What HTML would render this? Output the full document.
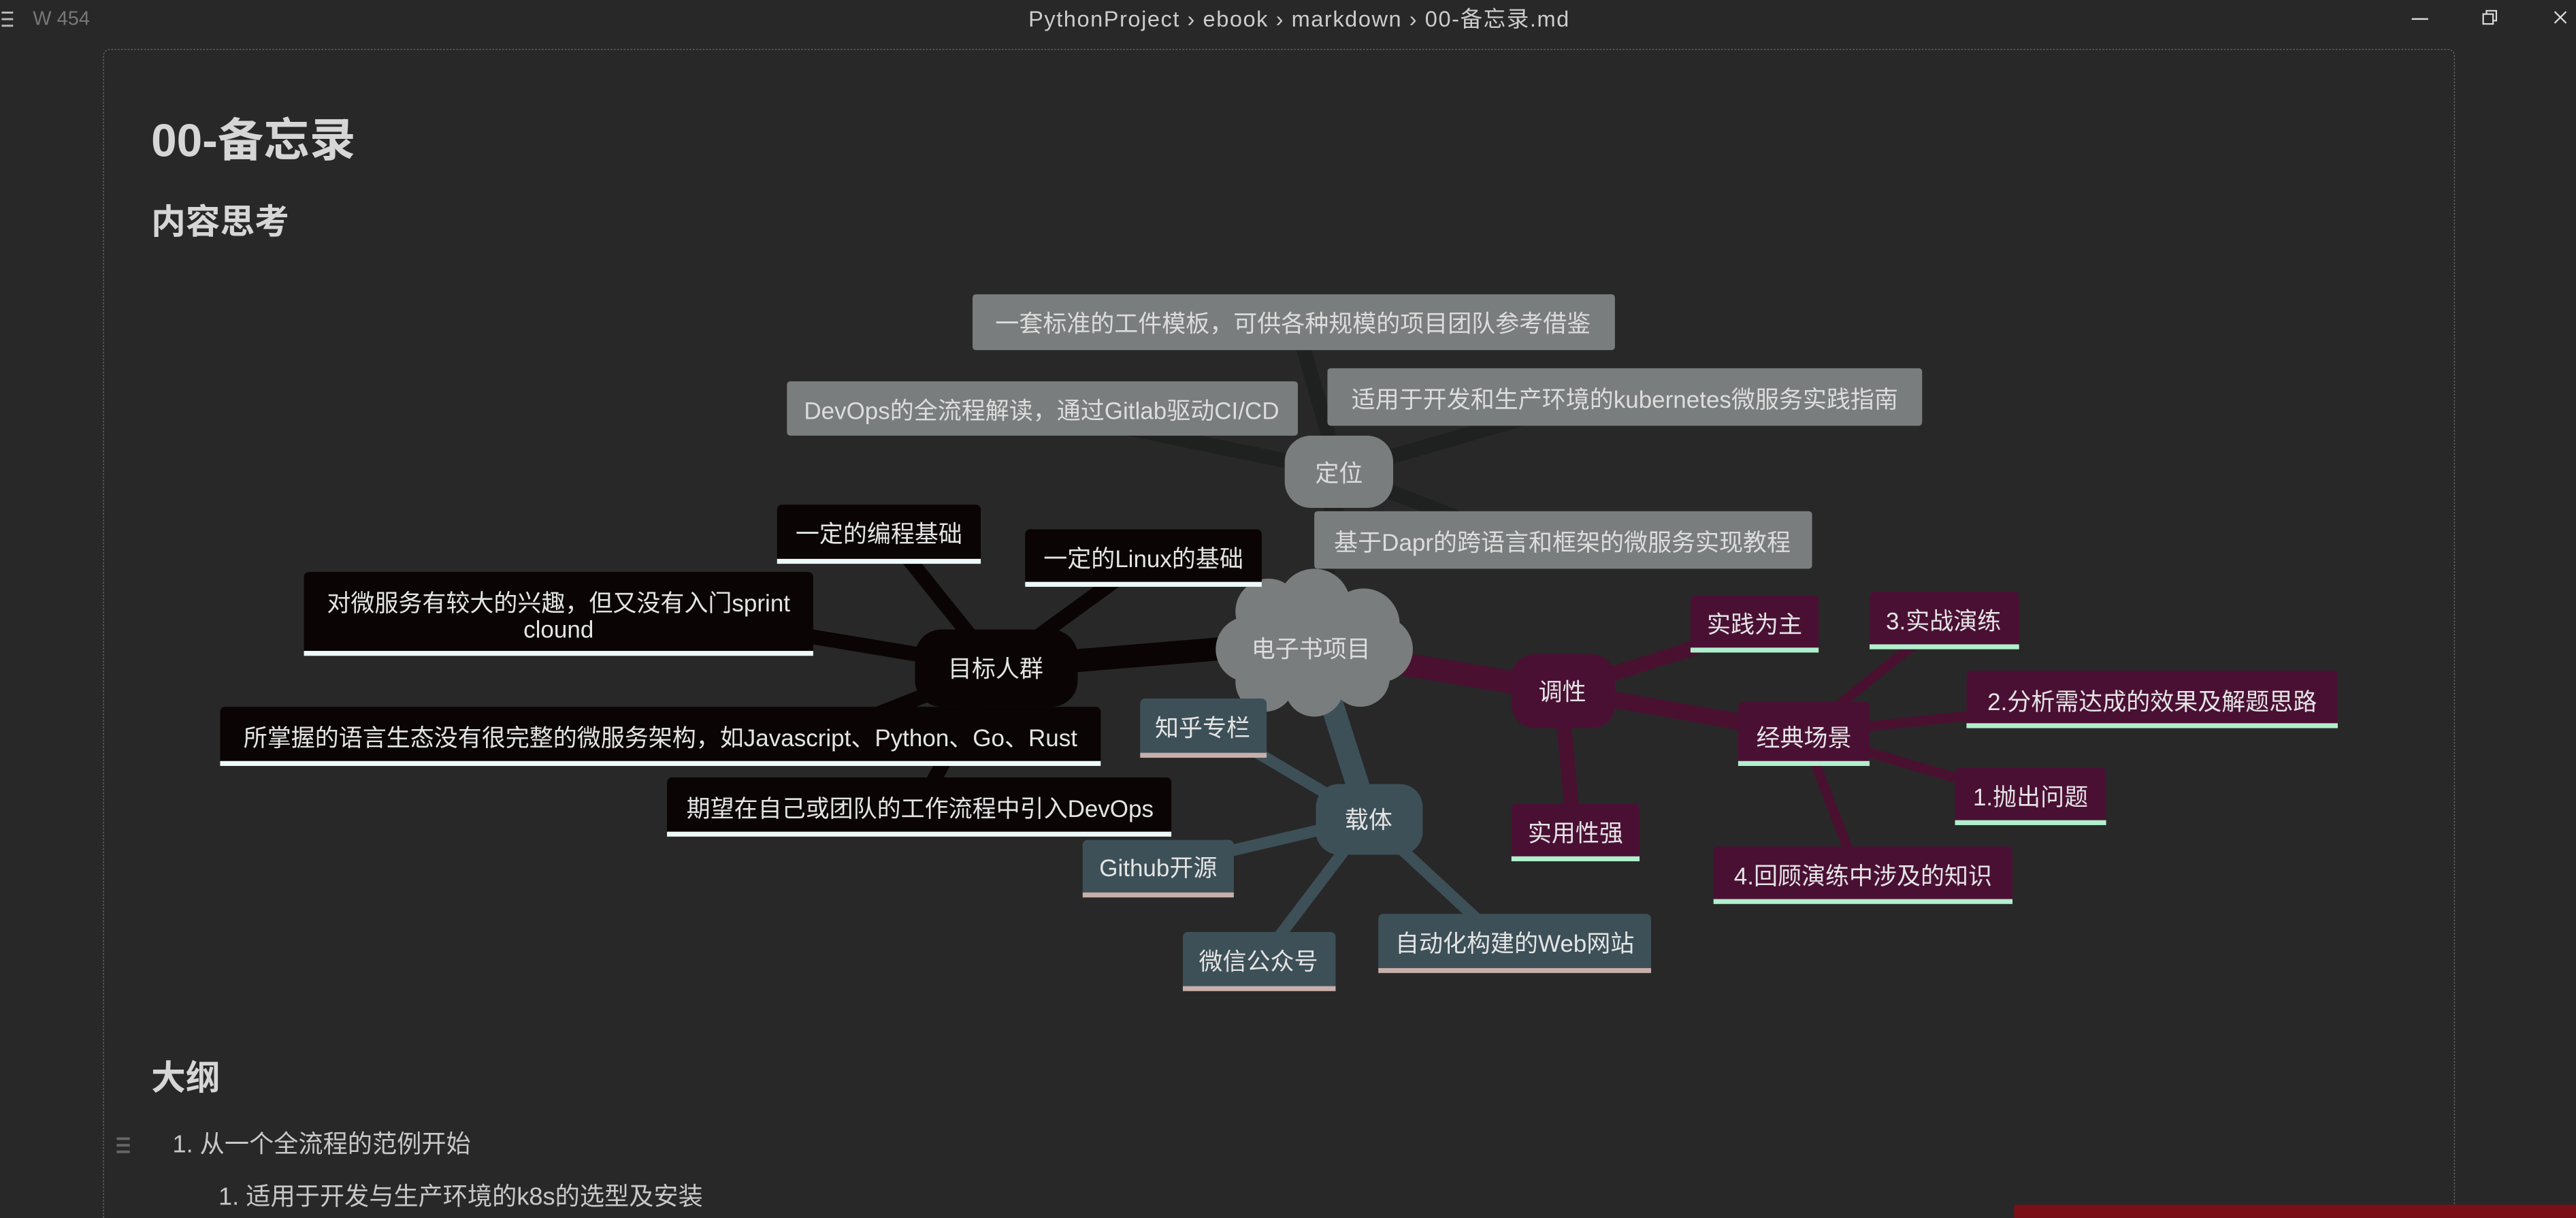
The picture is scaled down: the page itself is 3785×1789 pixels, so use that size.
<!DOCTYPE html>
<html><head><meta charset="utf-8"><style>
html,body{margin:0;padding:0;background:#282828;width:3785px;height:1789px;overflow:hidden}
svg{display:block}
text{font-family:"Liberation Sans","Noto Sans CJK SC",sans-serif}
</style></head><body>
<svg width="3785" height="1789" viewBox="0 0 1568 741" xmlns="http://www.w3.org/2000/svg">
<rect width="1568" height="741" fill="#282828"/>
<!-- title bar -->
<g fill="#bbb"><rect x="1" y="7" width="7" height="1.2"/><rect x="1" y="11" width="7" height="1.2"/><rect x="1" y="15" width="7" height="1.2"/></g>
<text x="20" y="15" font-size="12" fill="#777">W 454</text>
<text x="626" y="16" font-size="13.5" fill="#ccc" textLength="329" lengthAdjust="spacing">PythonProject  ›  ebook  ›  markdown  ›  00-备忘录.md</text>
<rect x="1468" y="11" width="10" height="1" fill="#ddd"/>
<g fill="none" stroke="#ddd" stroke-width="0.9"><rect x="1511.5" y="8.5" width="6" height="6"/><path d="M1513.5 8.5v-2h6v6h-2"/><path d="M1555 7l7 7M1562 7l-7 7"/></g>
<!-- frame -->
<path d="M63 741V34a4 4 0 0 1 4-4H1490a4 4 0 0 1 4 4V741" fill="none" stroke="#666" stroke-width="0.6" stroke-dasharray="1 1"/>
<text x="92" y="95" font-size="28" font-weight="bold" fill="#d6d6d6">00-备忘录</text>
<text x="92" y="142" font-size="21" font-weight="bold" fill="#d6d6d6">内容思考</text>
<text x="92" y="663" font-size="21" font-weight="bold" fill="#d6d6d6">大纲</text>
<g fill="#666"><rect x="71" y="692" width="8" height="1.6"/><rect x="71" y="696" width="8" height="1.6"/><rect x="71" y="700" width="8" height="1.6"/></g>
<text x="105" y="701" font-size="15" fill="#c8c8c8">1. 从一个全流程的范例开始</text>
<text x="133" y="733" font-size="15" fill="#c8c8c8">1. 适用于开发与生产环境的k8s的选型及安装</text>
<rect x="1226" y="733" width="342" height="8" fill="#7a0f18"/>

<!-- connectors: 定位 -->
<g stroke="#1f2121" stroke-linecap="round" fill="none">
<path d="M815 287L790 200" stroke-width="9"/>
<path d="M815 287L660 255" stroke-width="9"/>
<path d="M815 287L960 245" stroke-width="9"/>
<path d="M815 287L900 320" stroke-width="9"/>
<path d="M815 287L800 395" stroke-width="12"/>
</g>
<!-- 目标人群 -->
<g stroke="#0a0404" stroke-linecap="round" fill="none">
<path d="M606 406L800 390" stroke-width="14"/>
<path d="M606 406L545 330" stroke-width="9"/>
<path d="M606 406L690 345" stroke-width="9"/>
<path d="M606 406L420 375" stroke-width="9"/>
<path d="M606 406L500 448" stroke-width="9"/>
<path d="M606 406L560 490" stroke-width="9"/>
</g>
<!-- 调性 -->
<g stroke="#4a1030" stroke-linecap="round" fill="none">
<path d="M800 395L950 420" stroke-width="14"/>
<path d="M950 420L1060 385" stroke-width="9"/>
<path d="M950 420L1098 446" stroke-width="10"/>
<path d="M950 420L958 505" stroke-width="9"/>
<path d="M1098 446L1180 380" stroke-width="6"/>
<path d="M1098 446L1300 425" stroke-width="6"/>
<path d="M1098 446L1230 485" stroke-width="6"/>
<path d="M1098 446L1130 530" stroke-width="6"/>
</g>
<!-- 载体 -->
<g stroke="#3d5058" stroke-linecap="round" fill="none">
<path d="M800 395L833 498" stroke-width="14"/>
<path d="M833 498L735 440" stroke-width="7"/>
<path d="M833 498L705 528" stroke-width="7"/>
<path d="M833 498L767 585" stroke-width="7"/>
<path d="M833 498L915 574" stroke-width="7"/>
</g>

<!-- gray nodes -->
<g fill="#7a7d7d">
<rect x="592" y="179" width="391" height="34" rx="2"/>
<rect x="479" y="232" width="311" height="33" rx="2"/>
<rect x="808" y="224" width="362" height="35" rx="2"/>
<rect x="800" y="311" width="303" height="35" rx="2"/>
<rect x="782" y="265" width="66" height="44" rx="16"/>
</g>
<g font-size="14.5" fill="#dcdcdc" text-anchor="middle">
<text x="787" y="202">一套标准的工件模板，可供各种规模的项目团队参考借鉴</text>
<text x="634" y="255">DevOps的全流程解读，通过Gitlab驱动CI/CD</text>
<text x="989" y="248">适用于开发和生产环境的kubernetes微服务实践指南</text>
<text x="951" y="335">基于Dapr的跨语言和框架的微服务实现教程</text>
<text x="815" y="293">定位</text>
</g>

<!-- cloud -->
<g fill="#7a7d7d">
<circle cx="772" cy="372" r="20"/><circle cx="800" cy="368" r="22"/><circle cx="830" cy="380" r="22"/>
<circle cx="760" cy="395" r="20"/><circle cx="840" cy="395" r="20"/>
<circle cx="770" cy="415" r="18"/><circle cx="800" cy="418" r="18"/><circle cx="828" cy="412" r="18"/>
<ellipse cx="800" cy="395" rx="45" ry="28"/>
</g>
<text x="798" y="400" font-size="14.5" fill="#dcdcdc" text-anchor="middle">电子书项目</text>

<!-- black nodes -->
<g fill="#0a0404">
<rect x="557" y="383" width="99" height="47" rx="16"/>
<rect x="473" y="307" width="124" height="36" rx="3"/>
<rect x="624" y="322" width="144" height="35" rx="3"/>
<rect x="185" y="348" width="310" height="51" rx="3"/>
<rect x="134" y="430" width="536" height="36" rx="3"/>
<rect x="406" y="473" width="307" height="36" rx="3"/>
</g>
<g fill="#eefafa">
<rect x="473" y="340" width="124" height="3"/>
<rect x="624" y="354" width="144" height="3"/>
<rect x="185" y="396" width="310" height="3"/>
<rect x="134" y="463" width="536" height="3"/>
<rect x="406" y="506" width="307" height="3"/>
</g>
<g font-size="14.5" fill="#e4e4e4" text-anchor="middle">
<text x="606" y="412">目标人群</text>
<text x="535" y="330">一定的编程基础</text>
<text x="696" y="345">一定的Linux的基础</text>
<text x="340" y="372">对微服务有较大的兴趣，但又没有入门sprint</text>
<text x="340" y="388">clound</text>
<text x="402" y="454">所掌握的语言生态没有很完整的微服务架构，如Javascript、Python、Go、Rust</text>
<text x="560" y="497">期望在自己或团队的工作流程中引入DevOps</text>
</g>

<!-- purple nodes -->
<g fill="#4a1034">
<rect x="920" y="398" width="63" height="45" rx="14"/>
<rect x="1029" y="362" width="78" height="35" rx="3"/>
<rect x="1138" y="360" width="91" height="35" rx="3"/>
<rect x="1058" y="427" width="80" height="39" rx="3"/>
<rect x="1197" y="408" width="226" height="35" rx="3"/>
<rect x="1190" y="467" width="92" height="35" rx="3"/>
<rect x="920" y="489" width="78" height="35" rx="3"/>
<rect x="1043" y="515" width="182" height="35" rx="3"/>
</g>
<g fill="#b0f0cc">
<rect x="1029" y="394" width="78" height="3"/>
<rect x="1138" y="392" width="91" height="3"/>
<rect x="1058" y="463" width="80" height="3"/>
<rect x="1197" y="440" width="226" height="3"/>
<rect x="1190" y="499" width="92" height="3"/>
<rect x="920" y="521" width="78" height="3"/>
<rect x="1043" y="547" width="182" height="3"/>
</g>
<g font-size="14.5" fill="#e4e4e4" text-anchor="middle">
<text x="951" y="426">调性</text>
<text x="1068" y="385">实践为主</text>
<text x="1183" y="383">3.实战演练</text>
<text x="1098" y="454">经典场景</text>
<text x="1310" y="432">2.分析需达成的效果及解题思路</text>
<text x="1236" y="490">1.抛出问题</text>
<text x="959" y="512">实用性强</text>
<text x="1134" y="538">4.回顾演练中涉及的知识</text>
</g>

<!-- teal nodes -->
<g fill="#3d5058">
<rect x="801" y="477" width="65" height="43" rx="14"/>
<rect x="694" y="425" width="77" height="36" rx="3"/>
<rect x="659" y="511" width="92" height="35" rx="3"/>
<rect x="720" y="567" width="93" height="36" rx="3"/>
<rect x="839" y="556" width="166" height="36" rx="3"/>
</g>
<g fill="#c8b0aa">
<rect x="694" y="458" width="77" height="3"/>
<rect x="659" y="543" width="92" height="3"/>
<rect x="720" y="600" width="93" height="3"/>
<rect x="839" y="589" width="166" height="3"/>
</g>
<g font-size="14.5" fill="#e4e4e4" text-anchor="middle">
<text x="833" y="504">载体</text>
<text x="732" y="448">知乎专栏</text>
<text x="705" y="533">Github开源</text>
<text x="766" y="590">微信公众号</text>
<text x="922" y="579">自动化构建的Web网站</text>
</g>
</svg>
</body></html>
